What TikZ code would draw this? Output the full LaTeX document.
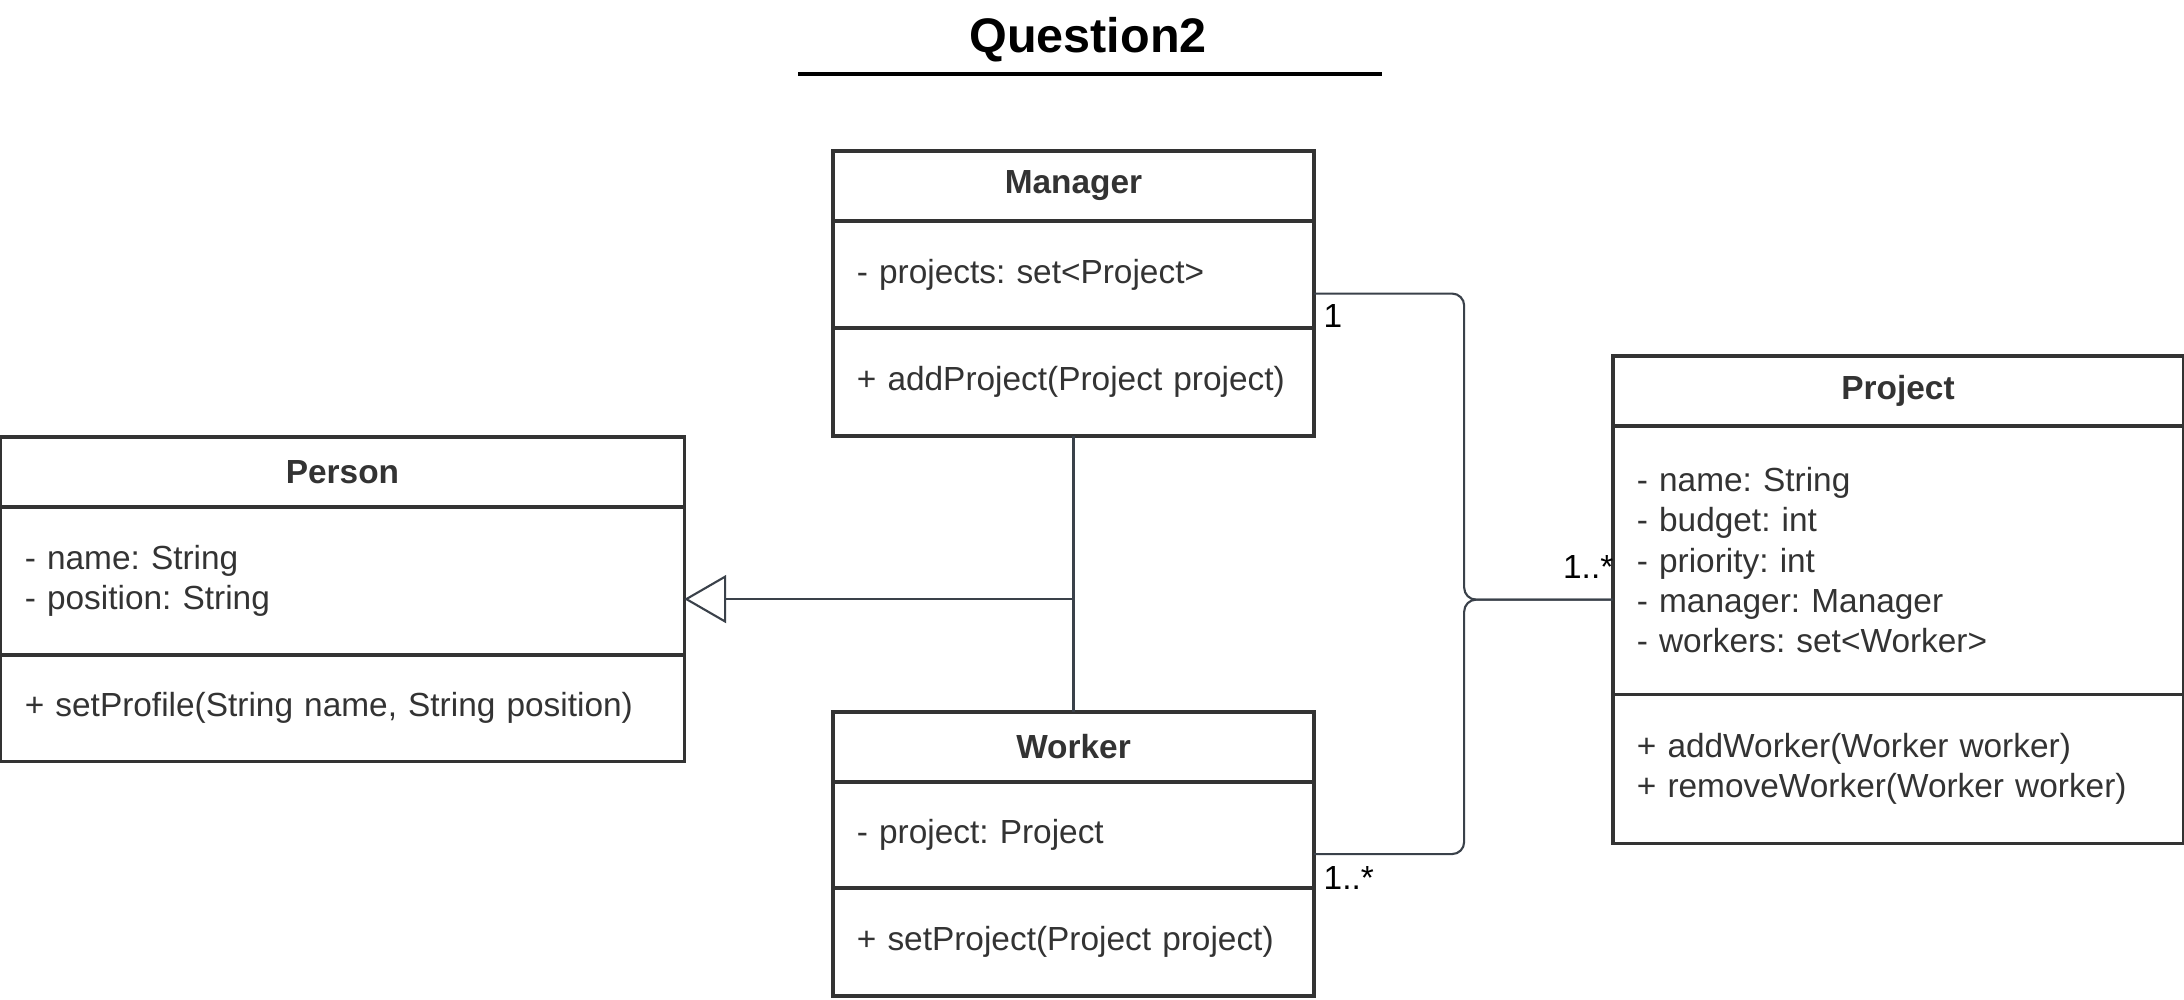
\documentclass[tikz,border=0pt]{standalone}
\usepackage{fontspec}
\setmainfont{Liberation Sans}
\frenchspacing
\usetikzlibrary{positioning,fit,arrows.meta}
\definecolor{boxgrey}{HTML}{333333}
\definecolor{linkgrey}{HTML}{3A414A}
\begin{document}
\begin{tikzpicture}[x=0.01cm,y=-0.01cm,
            every node/.style={font=\fontsize{9.5pt}{11.5pt}\selectfont},
            cls/.style={draw=boxgrey,line width=0.95pt,text=boxgrey,outer sep=0pt,inner xsep=0.24cm,inner ysep=0pt},
            clshead/.style={cls,font=\fontsize{9.5pt}{11.5pt}\selectfont\bfseries,align=center,minimum height=0.7cm},
            clsbody/.style={cls,align=left},
            clsframe/.style={inner sep=0pt,outer sep=0pt},
            conn/.style={draw=linkgrey,line width=0.6pt},
            assoc/.style={conn,rounded corners=0.12cm},
            mult/.style={inner sep=0pt,text=black}]
            \useasboundingbox (0,0) rectangle (2184,999);

            \node[font=\fontsize{13.8pt}{16pt}\selectfont\bfseries,anchor=base] (title) at (1088,52) {Question2};
            \draw[line width=0.95pt] (798,74) -- (1382,74);

            \node[clshead,text width=4.33cm] (mgr) at (1073.5,186) {Manager};
            \node[clsbody,text width=4.33cm,minimum height=1.07cm,below=0pt of mgr] (mgrattr) {- projects: set<Project>};
            \node[clsbody,text width=4.33cm,minimum height=1.08cm,below=0pt of mgrattr] (mgrops) {+ addProject(Project project)};
            \node[clsframe,fit=(mgr)(mgrops)] (manager) {};

            \node[clshead,text width=6.35cm] (prs) at (342.5,472) {Person};
            \node[clsbody,text width=6.35cm,minimum height=1.48cm,below=0pt of prs] (prsattr) {- name: String\\- position: String};
            \node[clsbody,text width=6.35cm,minimum height=1.06cm,below=0pt of prsattr] (prsops) {+ setProfile(String name, String position)};
            \node[clsframe,fit=(prs)(prsops)] (person) {};

            \node[clshead,text width=4.33cm] (wrk) at (1073.5,747) {Worker};
            \node[clsbody,text width=4.33cm,minimum height=1.06cm,below=0pt of wrk] (wrkattr) {- project: Project};
            \node[clsbody,text width=4.33cm,minimum height=1.08cm,below=0pt of wrkattr] (wrkops) {+ setProject(Project project)};
            \node[clsframe,fit=(wrk)(wrkops)] (worker) {};

            \node[clshead,text width=5.22cm] (prj) at (1898,391) {Project};
            \node[clsbody,text width=5.22cm,minimum height=2.68cm,below=0pt of prj] (prjattr) {- name: String\\- budget: int\\- priority: int\\- manager: Manager\\- workers: set<Worker>};
            \node[clsbody,text width=5.22cm,minimum height=1.49cm,below=0pt of prjattr] (prjops) {+ addWorker(Worker worker)\\+ removeWorker(Worker worker)};
            \node[clsframe,fit=(prj)(prjops)] (project) {};

            \draw[assoc] (manager.east) -- ++(150,0) |- (project.west);
            \draw[assoc] (worker.east) -- ++(150,0) |- (project.west);
            \node[mult,anchor=base west] (mone) at (1323,327) {1};
            \node[mult,anchor=base east] (mprj) at (1614,578) {1..*};
            \node[mult,anchor=base west] (mwrk) at (1323,889) {1..*};

            \coordinate (gjoin) at (manager.south |- person.east);
            \draw[conn] (manager.south) -- (worker.north);
            \draw[conn,-{Triangle[open,length=0.42cm,width=0.48cm]}] (gjoin) -- (person.east);
\end{tikzpicture}
\end{document}
